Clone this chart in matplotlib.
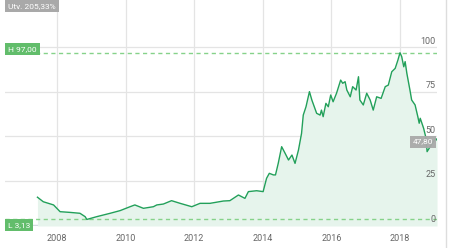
import matplotlib
matplotlib.use("Agg")
import matplotlib.pyplot as plt
from matplotlib.lines import Line2D
from matplotlib.transforms import offset_copy

LINE = "#22a05a"; FILL = "#e6f4ec"; DASH = "#86d28a"; BOXG = "#62bd6b"; BOXGREY = "#a9a9a9"
GRID = "#e4e4e4"; TXT = "#666666"

# price series (decimal year, price)
years = [2007.43, 2007.60, 2007.90, 2008.09, 2008.38, 2008.67, 2008.82, 2008.87, 2009.16, 2009.55,
         2009.84, 2010.13, 2010.27, 2010.52, 2010.81, 2010.91, 2011.10, 2011.34, 2011.59, 2011.93,
         2012.17, 2012.46, 2012.85, 2013.04, 2013.29, 2013.48, 2013.58, 2013.82, 2014.01, 2014.11,
         2014.19, 2014.31, 2014.37, 2014.45, 2014.55, 2014.65, 2014.75, 2014.85, 2014.94, 2015.04,
         2015.13, 2015.18, 2015.26, 2015.36, 2015.43, 2015.57, 2015.67, 2015.71, 2015.76, 2015.84,
         2015.91, 2015.98, 2016.05, 2016.15, 2016.27, 2016.33, 2016.40, 2016.45, 2016.55, 2016.62,
         2016.72, 2016.79, 2016.83, 2016.93, 2017.03, 2017.13, 2017.22, 2017.32, 2017.45, 2017.57,
         2017.66, 2017.76, 2017.86, 2017.94, 2018.00, 2018.05, 2018.11, 2018.15, 2018.20, 2018.29,
         2018.34, 2018.44, 2018.52, 2018.56, 2018.59, 2018.69, 2018.76, 2018.79, 2018.88, 2018.97,
         2019.04, 2019.08]
prices = [15.65, 13.1, 11.3, 7.5, 7.1, 6.6, 4.7, 3.13, 4.7, 6.6,
          8.1, 10.3, 11.3, 9.4, 10.3, 11.3, 11.8, 13.7, 12.2, 10.3,
          12.2, 12.2, 13.5, 13.7, 16.9, 15.0, 18.8, 19.3, 18.8, 26.3,
          29.1, 28.2, 28.2, 34.7, 44.1, 40.4, 36.6, 39.4, 34.7, 42.2,
          51.6, 61.9, 66.6, 75.1, 70.4, 62.9, 61.9, 64.7, 61.0, 68.5,
          66.6, 73.2, 69.4, 74.2, 81.6, 79.8, 80.7, 76.0, 72.2, 77.9,
          76.0, 83.5, 70.4, 67.6, 74.2, 70.4, 64.7, 72.2, 71.3, 77.9,
          78.8, 86.3, 88.2, 92.9, 97.0, 94.8, 89.1, 92.0, 85.4, 76.0,
          70.4, 67.6, 61.0, 57.3, 60.1, 54.4, 48.8, 41.3, 44.1, 46.9,
          48.8, 47.8]
high, low, last, change = 97.00, 3.13, 47.80, "205,33%"
xticks = [2008, 2010, 2012, 2014, 2016, 2018]
yticks = [0, 25, 50, 75, 100]

plt.rcParams["font.family"] = ["Roboto", "DejaVu Sans"]
fig = plt.figure(figsize=(4.49, 2.48), dpi=100)
ax = fig.add_axes([5/449, 22/248, 432/449, 226/248])
ymin, ymax = -0.56, 126.7
ax.set_xlim(2006.484, 2019.079); ax.set_ylim(ymin, ymax)

for x in xticks:
    ax.axvline(x, color=GRID, lw=0.9, zorder=0)
for y in yticks[1:]:
    ax.axhline(y, color=GRID, lw=0.9, zorder=0)
ax.axhline(ymin + 0.3, color="#d5dbe0", lw=1.0, zorder=1)

ax.fill_between(years, prices, ymin, color=FILL, lw=0, zorder=1)
ax.plot(years, prices, color=LINE, lw=1.0, zorder=3)

ax.axhline(high, color=DASH, lw=1.0, ls=(0, (3, 2.5)), zorder=2)
ax.axhline(low, color=DASH, lw=1.0, ls=(0, (3, 2.5)), zorder=2)

for y in yticks:
    ax.annotate(str(y), xy=(1, y), xycoords=("axes fraction", "data"), xytext=(-1, 1),
                textcoords="offset points", ha="right", va="bottom", fontsize=6.5, color=TXT, zorder=4)

ax.set_xticks(xticks)
ax.set_xticklabels([str(x) for x in xticks], fontsize=6.5, color=TXT)
ax.tick_params(axis="x", length=0, pad=6)
ax.set_yticks([])
for sp in ax.spines.values(): sp.set_visible(False)

# labelled boxes
ax.text(0.007, high, "H " + f"{high:.2f}".replace(".", ","), transform=offset_copy(ax.get_yaxis_transform(), fig=fig, y=3.5, units="dots"),
        fontsize=6, color="white", ha="left", va="center", zorder=6,
        bbox=dict(boxstyle="square,pad=0.35", fc=BOXG, ec="none"))
ax.text(0.007, low, "L " + f"{low:.2f}".replace(".", ","), transform=offset_copy(ax.get_yaxis_transform(), fig=fig, y=-5.5, units="dots"),
        fontsize=6, color="white", ha="left", va="center", zorder=6,
        bbox=dict(boxstyle="square,pad=0.35", fc=BOXG, ec="none"))
ax.text(0.992, last, f"{last:.2f}".replace(".", ","), transform=offset_copy(ax.get_yaxis_transform(), fig=fig, y=-1.5, units="dots"),
        fontsize=6, color="white", ha="right", va="center", zorder=6,
        bbox=dict(boxstyle="square,pad=0.35", fc=BOXGREY, ec="none", alpha=0.95))
fig.text(8/449, 1 - 6/248, "Utv. " + change, fontsize=6, color="white", ha="left", va="center",
         bbox=dict(boxstyle="square,pad=0.35", fc=BOXGREY, ec="none"))

fig.add_artist(Line2D([446/449, 446/449], [0, 1], color="#dddddd", lw=1.0))
fig.savefig("out.png", dpi=100)
